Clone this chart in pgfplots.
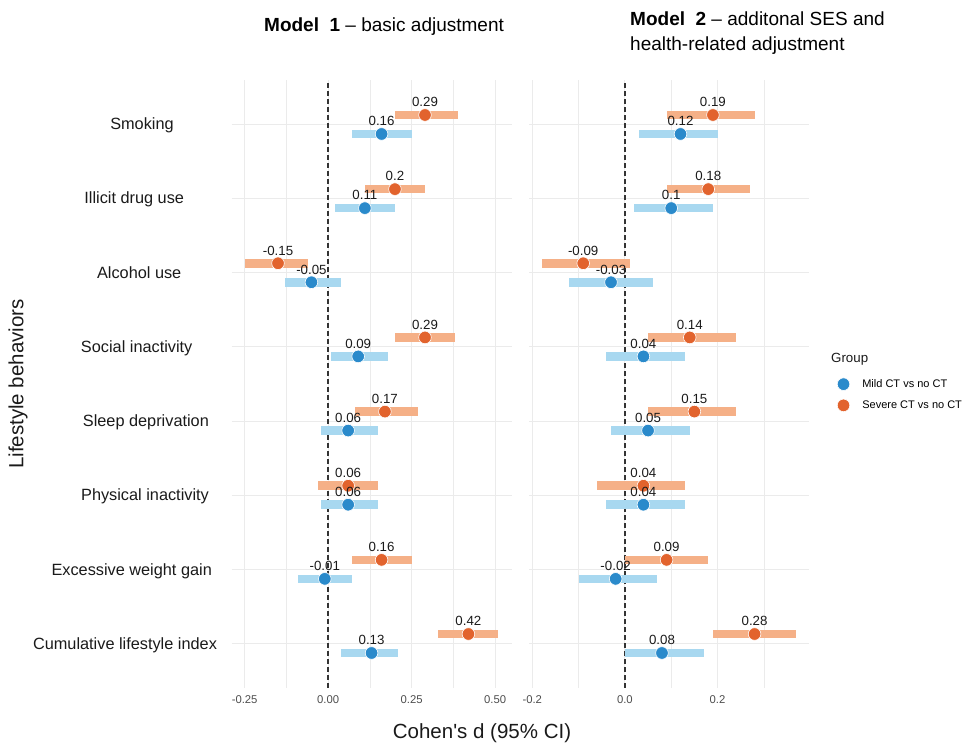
\documentclass[border=0pt]{standalone}
\usepackage{pgfplots}
\pgfplotsset{compat=1.18}
\usepackage{pgfplotstable}
\usepackage{fontspec}
\setmainfont{Liberation Sans}
\definecolor{cB}{HTML}{2A8ACB}
\definecolor{cO}{HTML}{E2632D}
\definecolor{cLB}{HTML}{A8D8F0}
\definecolor{cLO}{HTML}{F5B087}
\definecolor{gridc}{HTML}{EBEBEB}
\definecolor{tickc}{HTML}{4D4D4D}
\definecolor{labc}{HTML}{1A1A1A}
\definecolor{zeroc}{HTML}{333333}

% y: category (8=Smoking ... 1=Cumulative) dodged by +-0.128
\pgfplotstableread{
y     x     lo     hi    lab
7.872 0.16  0.07   0.25  0.16
6.872 0.11  0.02   0.20  0.11
5.872 -0.05 -0.13  0.04  -0.05
4.872 0.09  0.01   0.18  0.09
3.872 0.06  -0.02  0.15  0.06
2.872 0.06  -0.02  0.15  0.06
1.872 -0.01 -0.09  0.07  -0.01
0.872 0.13  0.04   0.21  0.13
}\leftmild
\pgfplotstableread{
y     x     lo     hi    lab
8.128 0.29  0.20   0.39  0.29
7.128 0.20  0.11   0.29  0.2
6.128 -0.15 -0.25  -0.06 -0.15
5.128 0.29  0.20   0.38  0.29
4.128 0.17  0.08   0.27  0.17
3.128 0.06  -0.03  0.15  0.06
2.128 0.16  0.07   0.25  0.16
1.128 0.42  0.33   0.51  0.42
}\leftsevere
\pgfplotstableread{
y     x     lo     hi    lab
7.872 0.12  0.03   0.20  0.12
6.872 0.10  0.02   0.19  0.1
5.872 -0.03 -0.12  0.06  -0.03
4.872 0.04  -0.04  0.13  0.04
3.872 0.05  -0.03  0.14  0.05
2.872 0.04  -0.04  0.13  0.04
1.872 -0.02 -0.10  0.07  -0.02
0.872 0.08  0.00   0.17  0.08
}\rightmild
\pgfplotstableread{
y     x     lo     hi    lab
8.128 0.19  0.09   0.28  0.19
7.128 0.18  0.09   0.27  0.18
6.128 -0.09 -0.18  0.01  -0.09
5.128 0.14  0.05   0.24  0.14
4.128 0.15  0.05   0.24  0.15
3.128 0.04  -0.06  0.13  0.04
2.128 0.09  0.00   0.18  0.09
1.128 0.28  0.19   0.37  0.28
}\rightsevere

\pgfplotsset{
  panel/.style={
    scale only axis,
    anchor=south west,
    height=608pt,
    ymin=0.4, ymax=8.6,
    ytick={1,2,3,4,5,6,7,8}, yticklabels={},
    grid=both,
    major grid style={draw=gridc, line width=0.9pt},
    minor grid style={draw=gridc, line width=0.5pt},
    axis line style={draw=none},
    major tick length=0pt, minor tick length=0pt,
    xticklabel style={font=\fontsize{11.3}{13}\selectfont, text=tickc, anchor=center, yshift=-12pt},
    /pgf/number format/assume math mode=true,
  },
  ci/.style 2 args={only marks, mark=*, mark size=6.3pt,
    mark options={fill=#1, draw=white, line width=0.6pt},
    error bars/.cd, x dir=both, x explicit, error mark=none,
    error bar style={line width=8.5pt, draw=#2}},
  vlab/.style={draw=none, mark=none, forget plot, nodes near coords,
    point meta=explicit symbolic,
    nodes near coords align={anchor=center},
    every node near coord/.append style={font=\fontsize{13.3}{15}\selectfont, text=labc, yshift=12.8pt}},
}

\begin{document}
\begin{tikzpicture}[x=1pt,y=1pt]
\path[use as bounding box] (0,0) rectangle (966,743);

% ---------- Left panel ----------
\begin{axis}[panel, at={(231.6pt,55pt)}, width=279.9pt,
  xmin=-0.289, xmax=0.549,
  xtick={-0.25,0,0.25,0.5}, xticklabels={-0.25,0.00,0.25,0.50},
  minor xtick={-0.125,0.125,0.375}]
\draw[dash pattern=on 5pt off 3pt, line width=1.3pt, color=zeroc] (axis cs:0,0.4) -- (axis cs:0,8.6);
\addplot[ci={cB}{cLB}] table[x=x, y=y, x error plus expr=\thisrow{hi}-\thisrow{x}, x error minus expr=\thisrow{x}-\thisrow{lo}] {\leftmild};
\addplot[ci={cO}{cLO}] table[x=x, y=y, x error plus expr=\thisrow{hi}-\thisrow{x}, x error minus expr=\thisrow{x}-\thisrow{lo}] {\leftsevere};
\addplot[vlab] table[x=x, y=y, meta=lab] {\leftmild};
\addplot[vlab] table[x=x, y=y, meta=lab] {\leftsevere};
\end{axis}

% ---------- Right panel ----------
\begin{axis}[panel, at={(528.8pt,55pt)}, width=280.2pt,
  xmin=-0.2075, xmax=0.3975,
  xtick={-0.2,0,0.2}, xticklabels={-0.2,0.0,0.2},
  minor xtick={-0.1,0.1,0.3},
  legend style={at={(axis description cs:1.1,0.5104)}, anchor=north west,
    draw=none, fill=none, inner sep=0pt, row sep=8.6pt, column sep=11pt,
    font=\fontsize{11}{13}\selectfont,
    nodes={inner sep=1.5pt}},
  legend cell align=left]
\draw[dash pattern=on 5pt off 3pt, line width=1.3pt, color=zeroc] (axis cs:0,0.4) -- (axis cs:0,8.6);
\addplot[ci={cB}{cLB}] table[x=x, y=y, x error plus expr=\thisrow{hi}-\thisrow{x}, x error minus expr=\thisrow{x}-\thisrow{lo}] {\rightmild};
\addlegendentry{Mild CT vs no CT}
\addplot[ci={cO}{cLO}] table[x=x, y=y, x error plus expr=\thisrow{hi}-\thisrow{x}, x error minus expr=\thisrow{x}-\thisrow{lo}] {\rightsevere};
\addlegendentry{Severe CT vs no CT}
\addplot[vlab] table[x=x, y=y, meta=lab] {\rightmild};
\addplot[vlab] table[x=x, y=y, meta=lab] {\rightsevere};
\end{axis}

% ---------- Category labels ----------
\begin{scope}[every node/.style={font=\fontsize{16.3}{19}\selectfont, anchor=base, text=labc, inner sep=0pt}]
\node at (142,613.7) {Smoking};
\node at (134.2,539.3) {Illicit drug use};
\node at (139.2,464.7) {Alcohol use};
\node at (136.7,390.3) {Social inactivity};
\node at (145.9,316) {Sleep deprivation};
\node at (145,242) {Physical inactivity};
\node at (131.7,167.7) {Excessive weight gain};
\node at (125,93.7) {Cumulative lifestyle index};
\end{scope}

% ---------- Axis titles ----------
\node[font=\fontsize{20.5}{24}\selectfont, text=labc, inner sep=0pt] at (482,10) {Cohen\textquotesingle s d (95\% CI)};
\node[font=\fontsize{20.5}{24}\selectfont, text=labc, inner sep=0pt, rotate=90] at (18,359) {Lifestyle behaviors};

% ---------- Panel titles ----------
\node[font=\fontsize{19}{23}\selectfont, anchor=base west, inner sep=0pt] at (264,711.4) {\bfseries Model~~1\mdseries{} – basic adjustment};
\node[font=\fontsize{19}{23}\selectfont, anchor=base west, inner sep=0pt] at (630,717.4) {\bfseries Model~~2\mdseries{} – additonal SES and};
\node[font=\fontsize{19}{23}\selectfont, anchor=base west, inner sep=0pt] at (630,692.4) {health-related adjustment};

% ---------- Legend title ----------
\node[font=\fontsize{13.3}{16}\selectfont, anchor=west, inner sep=0pt, text=labc] at (831,384) {Group};
\end{tikzpicture}
\end{document}
